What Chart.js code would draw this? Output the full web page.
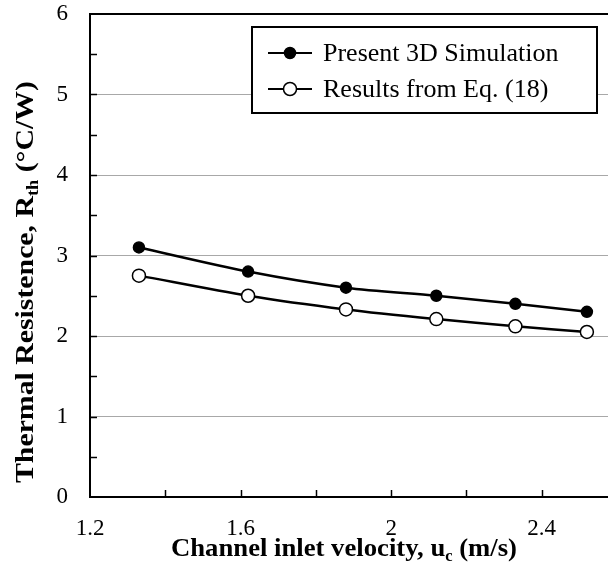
<!DOCTYPE html>
<html>
<head>
<meta charset="utf-8">
<script src="https://cdn.jsdelivr.net/npm/chart.js@4.4.1/dist/chart.umd.min.js"></script>
<style>
  html, body { margin: 0; padding: 0; background: #fff; overflow: hidden; }
  #wrap { width: 625px; height: 573px; }
</style>
</head>
<body>
<div id="wrap"><canvas id="c" width="625" height="573"></canvas></div>
<script>
// ---- data ----
const velocities = [1.33, 1.62, 1.88, 2.12, 2.33, 2.52];
const simulation = [3.10, 2.80, 2.60, 2.50, 2.40, 2.30];
const equation18 = [2.75, 2.50, 2.33, 2.21, 2.12, 2.05];
const seriesLabels = ['Present 3D Simulation', 'Results from Eq. (18)'];
const xTickLabels = [1.2, 1.6, 2, 2.4];
const yTickLabels = [0, 1, 2, 3, 4, 5, 6];

const SERIF = '"Liberation Serif", "Times New Roman", serif';

function pts(xs, ys) { return xs.map((x, i) => ({ x: x, y: ys[i] })); }

const overlay = {
  id: 'overlay',
  afterDraw(chart) {
    const ctx = chart.ctx;
    const xs = chart.scales.x, ys = chart.scales.y;
    const a = chart.chartArea;
    ctx.save();
    // top border
    ctx.strokeStyle = '#000';
    ctx.lineWidth = 2;
    ctx.beginPath();
    ctx.moveTo(a.left - 1, a.top);
    ctx.lineTo(a.right + 10, a.top);
    ctx.stroke();
    // inward ticks
    ctx.lineWidth = 1.5;
    for (let v = 0.5; v < 6; v += 0.5) {
      const y = Math.round(ys.getPixelForValue(v)) + 0.5;
      ctx.beginPath(); ctx.moveTo(a.left, y); ctx.lineTo(a.left + 7, y); ctx.stroke();
    }
    for (let k = 1; k <= 6; k++) {
      const v = 1.2 + 0.2 * k;
      const x = Math.round(xs.getPixelForValue(v)) + 0.5;
      ctx.beginPath(); ctx.moveTo(x, a.bottom); ctx.lineTo(x, a.bottom - 7); ctx.stroke();
    }
    // legend
    const bx = 252, by = 27, bw = 345, bh = 86;
    ctx.fillStyle = '#fff';
    ctx.fillRect(bx, by, bw, bh);
    ctx.lineWidth = 2;
    ctx.strokeStyle = '#000';
    ctx.strokeRect(bx, by, bw, bh);
    const rows = [53, 89];
    chart.data.datasets.forEach((ds, i) => {
      const y = rows[i];
      ctx.lineWidth = 2.2;
      ctx.strokeStyle = '#000';
      ctx.beginPath(); ctx.moveTo(268, y); ctx.lineTo(312, y); ctx.stroke();
      ctx.beginPath();
      ctx.arc(290, y, ds.pointRadius, 0, Math.PI * 2);
      ctx.fillStyle = ds.pointBackgroundColor;
      ctx.fill();
      ctx.lineWidth = ds.pointBorderWidth;
      ctx.stroke();
      ctx.fillStyle = '#000';
      ctx.font = '26px ' + SERIF;
      ctx.textBaseline = 'middle';
      ctx.textAlign = 'left';
      ctx.fillText(ds.label, 323, y + 1);
    });
    // axis titles with subscripts, fitted to a target length
    function partsWidth(parts) {
      let w = 0;
      parts.forEach(p => { ctx.font = 'bold ' + p.size + 'px ' + SERIF; w += ctx.measureText(p.t).width; });
      return w;
    }
    function drawParts(parts, target) {
      const s = target / partsWidth(parts);
      ctx.scale(s, 1);
      let x = 0;
      parts.forEach(p => {
        ctx.font = 'bold ' + p.size + 'px ' + SERIF;
        ctx.fillText(p.t, x, p.dy || 0);
        x += ctx.measureText(p.t).width;
      });
    }
    ctx.fillStyle = '#000';
    ctx.textBaseline = 'alphabetic';
    ctx.textAlign = 'left';
    ctx.save();
    ctx.translate(171, 556);
    drawParts([
      { t: 'Channel inlet velocity, u', size: 26 },
      { t: 'c', size: 16, dy: 5 },
      { t: ' (m/s)', size: 26 }
    ], 346);
    ctx.restore();
    ctx.save();
    ctx.translate(33, 483);
    ctx.rotate(-Math.PI / 2);
    drawParts([
      { t: 'Thermal Resistence, R', size: 26 },
      { t: 'th', size: 16, dy: 5 },
      { t: ' (\u00B0C/W)', size: 26 }
    ], 402);
    ctx.restore();
    ctx.restore();
  }
};

new Chart(document.getElementById('c'), {
  type: 'scatter',
  data: {
    datasets: [
      {
        label: seriesLabels[0],
        data: pts(velocities, simulation),
        showLine: true,
        borderColor: '#000',
        borderWidth: 2.5,
        tension: 0.3,
        pointRadius: 5.5,
        pointHoverRadius: 5.5,
        pointBackgroundColor: '#000',
        pointBorderColor: '#000',
        pointBorderWidth: 1.5
      },
      {
        label: seriesLabels[1],
        data: pts(velocities, equation18),
        showLine: true,
        borderColor: '#000',
        borderWidth: 2.5,
        tension: 0.3,
        pointRadius: 6.5,
        pointHoverRadius: 6.5,
        pointBackgroundColor: '#fff',
        pointBorderColor: '#000',
        pointBorderWidth: 1.5
      }
    ]
  },
  options: {
    responsive: false,
    animation: false,
    layout: { padding: { top: 14, right: 0, left: 0, bottom: 0 } },
    plugins: { legend: { display: false }, tooltip: { enabled: false } },
    scales: {
      x: {
        type: 'linear',
        min: 1.2, max: 2.6,
        afterFit(s) { s.height = 76; s.paddingLeft = 0; s.paddingRight = 0; },
        border: { display: true, color: '#000', width: 2 },
        grid: { display: false, drawTicks: false },
        ticks: {
          stepSize: 0.2,
          padding: 18,
          color: '#000',
          font: { family: SERIF, size: 23 },
          maxRotation: 0,
          autoSkip: false,
          callback(v) {
            const m = xTickLabels.find(t => Math.abs(t - v) < 1e-6);
            return m === undefined ? '' : String(m);
          }
        }
      },
      y: {
        type: 'linear',
        min: 0, max: 6,
        afterFit(s) { s.width = 90; s.paddingTop = 0; s.paddingBottom = 0; },
        border: { display: true, color: '#000', width: 2 },
        grid: {
          drawTicks: false,
          lineWidth: 1,
          color(c) {
            const v = c.tick && c.tick.value;
            return (v > 0 && v < 6 && Math.abs(v - Math.round(v)) < 1e-6) ? '#a8a8a8' : 'rgba(0,0,0,0)';
          }
        },
        ticks: {
          stepSize: 0.5,
          padding: 22,
          color: '#000',
          font: { family: SERIF, size: 23 },
          autoSkip: false,
          callback(v) {
            const m = yTickLabels.find(t => Math.abs(t - v) < 1e-6);
            return m === undefined ? '' : String(m);
          }
        }
      }
    }
  },
  plugins: [overlay]
});
</script>
</body>
</html>
